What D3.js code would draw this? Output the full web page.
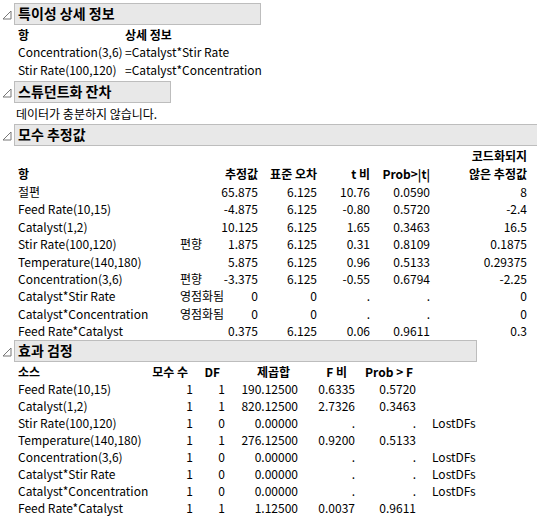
<!DOCTYPE html>
<html><head><meta charset="utf-8">
<script src="https://cdn.jsdelivr.net/npm/d3@7"></script>
<style>body{margin:0;background:#fff}text{font-family:"Noto Sans CJK KR","Noto Sans",sans-serif;font-size:12px;fill:#000}</style>
</head><body>
<script>
// singularity details
var singTerms = ["Concentration(3,6)", "Stir Rate(100,120)"];
var singDetail = ["=Catalyst*Stir Rate", "=Catalyst*Concentration"];

// parameter estimates
var peTerms = ["절편","Feed Rate(10,15)","Catalyst(1,2)","Stir Rate(100,120)","Temperature(140,180)","Concentration(3,6)","Catalyst*Stir Rate","Catalyst*Concentration","Feed Rate*Catalyst"];
var peFlag = ["","","","편향","","편향","영점화됨","영점화됨",""];
var peEst = ["65.875","-4.875","10.125","1.875","5.875","-3.375","0","0","0.375"];
var peSE = ["6.125","6.125","6.125","6.125","6.125","6.125","0","0","6.125"];
var peT = ["10.76","-0.80","1.65","0.31","0.96","-0.55",".",".","0.06"];
var peP = ["0.0590","0.5720","0.3463","0.8109","0.5133","0.6794",".",".","0.9611"];
var peCoded = ["8","-2.4","16.5","0.1875","0.29375","-2.25","0","0","0.3"];

// effect tests
var etSource = ["Feed Rate(10,15)","Catalyst(1,2)","Stir Rate(100,120)","Temperature(140,180)","Concentration(3,6)","Catalyst*Stir Rate","Catalyst*Concentration","Feed Rate*Catalyst"];
var etNparm = [1,1,1,1,1,1,1,1];
var etDF = [1,1,0,1,0,0,0,1];
var etSS = ["190.12500","820.12500","0.00000","276.12500","0.00000","0.00000","0.00000","1.12500"];
var etF = ["0.6335","2.7326",".","0.9200",".",".",".","0.0037"];
var etP = ["0.5720","0.3463",".","0.5133",".",".",".","0.9611"];
var etNote = ["","","LostDFs","","LostDFs","LostDFs","LostDFs",""];

var svg = d3.select("body").append("svg").attr("width",537).attr("height",519);

function header(y, w, title){
  svg.append("path").attr("d","M3,"+(y+16)+" L11,"+(y+16)+" L11,"+(y+8)+" Z")
     .attr("fill","none").attr("stroke","#777");
  svg.append("rect").attr("x",14.5).attr("y",y+0.5).attr("width",w).attr("height",21)
     .attr("fill","#e8e8e8").attr("stroke","#bdbdbd");
  svg.append("text").attr("x",18).attr("y",y+16).style("font-size","14px")
     .style("font-weight","bold").text(title);
}
function txt(x, y, s, anchor, bold){
  var t = svg.append("text").attr("x",x).attr("y",y).attr("text-anchor",anchor||"start").text(s);
  if (bold) t.style("font-weight","bold");
  return t;
}

header(3, 246, "특이성 상세 정보");
txt(18,40,"항","start",true); txt(125,40,"상세 정보","start",true);
var ys = d3.scalePoint().domain(d3.range(singTerms.length)).range([57,75]);
singTerms.forEach(function(d,i){ txt(18,ys(i),d); txt(125,ys(i),singDetail[i]); });

header(81, 156, "스튜던트화 잔차");
txt(16,119,"데이터가 충분하지 않습니다.");

header(124, 530, "모수 추정값");
txt(527,161,"코드화되지","end",true);
txt(527,179,"않은 추정값","end",true);
var peCols = [258,317,370,430,527];
var peHead = ["추정값","표준 오차","t 비","Prob>|t|"];
txt(18,179,"항","start",true);
peHead.forEach(function(h,j){ txt(peCols[j],179,h,"end",true); });
var yp = d3.scalePoint().domain(d3.range(peTerms.length)).range([197,336]);
peTerms.forEach(function(d,i){
  var y = yp(i);
  txt(18,y,d); txt(180,y,peFlag[i]);
  [peEst,peSE,peT,peP,peCoded].forEach(function(a,j){ txt(peCols[j],y,a[i],"end"); });
});

header(340, 462, "효과 검정");
var etCols = [193,225,298,355,416];
var etHead = ["모수 수","DF","제곱합","F 비","Prob > F"];
var hx = [188,220,290,347,413];
txt(18,377,"소스","start",true);
etHead.forEach(function(h,j){ txt(hx[j],377,h,"end",true); });
var ye = d3.scalePoint().domain(d3.range(etSource.length)).range([394,513]);
etSource.forEach(function(d,i){
  var y = ye(i);
  txt(18,y,d);
  [etNparm,etDF,etSS,etF,etP].forEach(function(a,j){ txt(etCols[j],y,a[i],"end"); });
  txt(432,y,etNote[i]);
});
</script>
</body></html>
